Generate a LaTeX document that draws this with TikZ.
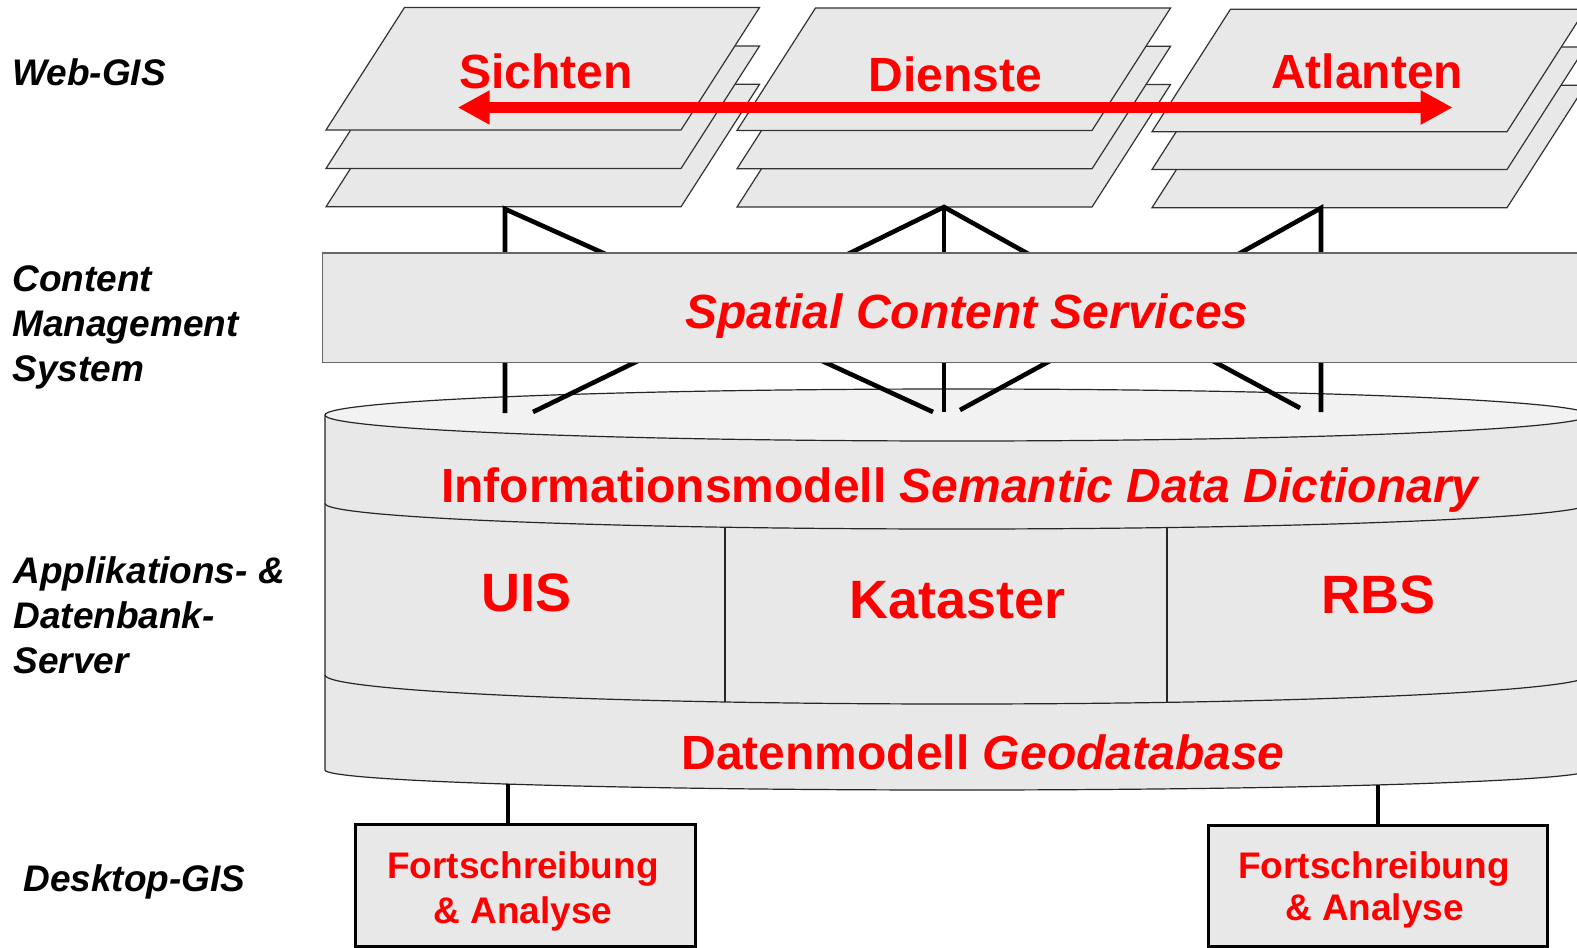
\documentclass[tikz,border=0pt]{standalone}
\usepackage{fontspec}
\setmainfont{Liberation Sans}
\usetikzlibrary{arrows.meta}
\definecolor{redt}{RGB}{255,0,0}
\definecolor{panel}{RGB}{232,232,232}
\definecolor{lidfill}{RGB}{242,242,242}
\newcommand\websheet[3]{% #1 name, #2 bottom-left x, #3 top y
  \draw[sheet] (#2,{#3+122.5}) coordinate (#1bl) -- ({#2+355},{#3+122.5}) coordinate (#1br)
     -- ({#2+433.5},#3) coordinate (#1tr) -- ({#2+78.5},#3) coordinate (#1tl) -- cycle;}
\begin{document}
\begin{tikzpicture}[x=0.5pt,y=-0.5pt,
  sheet/.style={fill=panel,draw=black!80,line width=0.6pt,line join=miter},
  cylline/.style={draw=black!85,line width=0.6pt},
  link/.style={draw=black,line width=2.3pt,line join=miter},
  redlbl/.style={text=redt,inner sep=0pt,anchor=base,font=\fontsize{24}{29}\selectfont\bfseries},
  biglbl/.style={text=redt,inner sep=0pt,anchor=base,font=\fontsize{27}{32}\selectfont\bfseries},
  boxlbl/.style={text=redt,inner sep=0pt,anchor=base,font=\fontsize{18.5}{22}\selectfont\bfseries},
  sidelbl/.style={text=black,inner sep=0pt,anchor=base west,font=\fontsize{18.5}{22}\selectfont\bfseries\itshape},
  cmsbox/.style={fill=panel,draw=black!60,line width=0.75pt,inner sep=0pt,anchor=north west},
  deskbox/.style={fill=panel,draw=black,line width=1.5pt,inner sep=0pt,anchor=north west}]
\useasboundingbox (0,0) rectangle (1577,947);
\clip (0,0) rectangle (1577,947);
\fill[white] (0,0) rectangle (1577,947);

% ---------- Web-GIS sheets ----------
\websheet{sa}{326}{84.3}
\websheet{sb}{326}{46}
\websheet{sc}{326}{7.5}
\websheet{da}{737}{84.5}
\websheet{db}{737}{46.3}
\websheet{dc}{737}{8}
\websheet{aa}{1152}{85.2}
\websheet{ab}{1152}{47}
\websheet{ac}{1152}{9.2}

% red double arrow
\coordinate (arrL) at (457.7,107.5);
\coordinate (arrR) at (1452.7,107.5);
\draw[redt,line width=5.5pt,{Triangle[length=16pt,width=16pt]}-{Triangle[length=16pt,width=16pt]}] (arrL) -- (arrR);
\node[redlbl] (sichten) at (546,88.3) {Sichten};
\node[redlbl] (dienste) at (955.5,91) {Dienste};
\node[redlbl] (atlanten) at (1367,88.3) {Atlanten};

% ---------- cylinder (Applikations- & Datenbank-Server) ----------
\fill[panel] (325,415) -- (325,770) arc[start angle=180,end angle=360,x radius=316pt,y radius=10pt]
  -- (1589,415) arc[start angle=0,end angle=-180,x radius=316pt,y radius=13pt] -- cycle;
\draw[cylline] (325,415) -- (325,770) arc[start angle=180,end angle=360,x radius=316pt,y radius=10pt] -- (1589,415);
\draw[cylline,fill=lidfill] (957,415) ellipse[x radius=316pt,y radius=13pt];
\draw[cylline] (325,503.5) arc[start angle=180,end angle=360,x radius=316pt,y radius=12.75pt];
\draw[cylline] (325,675) arc[start angle=180,end angle=360,x radius=316pt,y radius=14.5pt];
\draw[cylline] (725,527.2) -- (725,702);
\draw[cylline] (1167,527.5) -- (1167,702.3);

% ---------- connectors Web-GIS -> CMS -> server ----------
\coordinate (sTop) at (505,209);
\coordinate (dTop) at (944,207);
\coordinate (aTop) at (1321,208);
\coordinate (sBotV) at (505,413);
\coordinate (dBotV) at (944,412);
\coordinate (aBotV) at (1321,412);
\coordinate (sBotD) at (533,412);
\coordinate (dBotL) at (933,412);
\coordinate (dBotR) at (960,410);
\coordinate (aBotD) at (1300,408);
\coordinate (hubSU) at (708,300);
\coordinate (hubSL) at (722,320);
\coordinate (hubDUL) at (754,300);
\coordinate (hubDUR) at (1111,300);
\coordinate (hubDLL) at (733,320);
\coordinate (hubDLR) at (1125,320);
\coordinate (hubAU) at (1156,300);
\coordinate (hubAL) at (1137,320);
\draw[link] (hubSU) -- (sTop) -- (sBotV);
\draw[link] (hubSL) -- (sBotD);
\draw[link] (hubDUL) -- (dTop) -- (hubDUR);
\draw[link] (dTop) -- (dBotV);
\draw[link] (hubDLL) -- (dBotL);
\draw[link] (hubDLR) -- (dBotR);
\draw[link] (hubAU) -- (aTop) -- (aBotV);
\draw[link] (hubAL) -- (aBotD);

% ---------- CMS box ----------
\node[cmsbox,minimum width=640pt,minimum height=54.75pt] (cms) at (321.5,252) {};
\node[redlbl,font=\fontsize{24}{29}\selectfont\bfseries\itshape] (scs) at (967,328.3) {Spatial Content Services};

% ---------- cylinder labels ----------
\node[redlbl] (infomod) at (960.8,502.7) {Informationsmodell \textit{Semantic Data Dictionary}};
\node[biglbl] (uis) at (527,611) {UIS};
\node[biglbl] (kataster) at (957.5,618) {Kataster};
\node[biglbl] (rbs) at (1378.5,613.3) {RBS};
\node[redlbl] (datenmod) at (983,769.3) {Datenmodell \textit{Geodatabase}};

% ---------- Desktop-GIS boxes ----------
\node[deskbox,minimum width=170pt,minimum height=61pt] (deskL) at (354,823) {};
\node[deskbox,minimum width=169.5pt,minimum height=60.5pt] (deskR) at (1207,824) {};
\draw[link,line cap=butt] (508,784) -- (deskL.north -| 508,0);
\draw[link,line cap=butt] (1378,785) -- (deskR.north -| 1378,0);
\node[boxlbl] (fortL) at (523,878.3) {Fortschreibung};
\node[boxlbl] (anaL) at (523,923.3) {\& Analyse};
\node[boxlbl] (fortR) at (1374,878.3) {Fortschreibung};
\node[boxlbl] (anaR) at (1374.5,920.5) {\& Analyse};

% ---------- layer labels ----------
\node[sidelbl] (webgis) at (12,85) {Web-GIS};
\node[sidelbl] (cms1) at (12,291.7) {Content};
\node[sidelbl] (cms2) at (12,336.7) {Management};
\node[sidelbl] (cms3) at (12,381.7) {System};
\node[sidelbl] (srv1) at (13,583.3) {Applikations- \&};
\node[sidelbl] (srv2) at (13,628.3) {Datenbank-};
\node[sidelbl] (srv3) at (13,673.3) {Server};
\node[sidelbl] (desk) at (23,891) {Desktop-GIS};
\end{tikzpicture}
\end{document}
